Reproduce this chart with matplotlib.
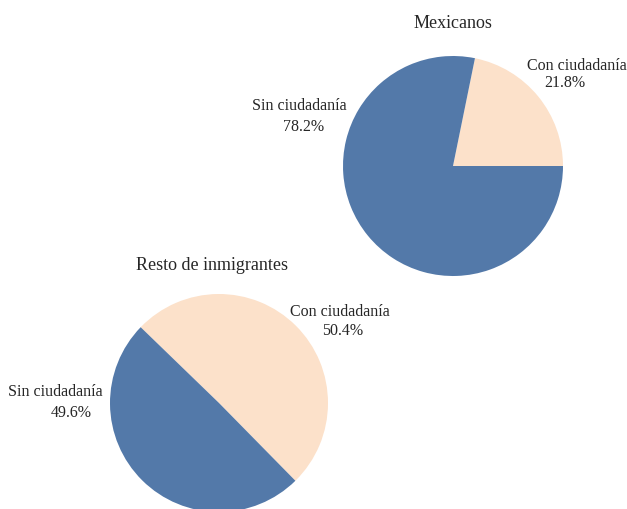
import matplotlib.pyplot as plt

plt.rcParams['font.family'] = ['Liberation Serif', 'DejaVu Serif']
plt.rcParams['text.color'] = '#262626'

labels = ['Con ciudadanía', 'Sin ciudadanía']
mexicanos = [21.8, 78.2]
resto = [50.4, 49.6]
colors = ['#fce1ca', '#5379a9']

fig = plt.figure(figsize=(6.27, 5.10), dpi=100)
W, H = 627, 510


def pie_axes(cx, cy, r):
    # pixel centre/radius -> axes in figure fractions
    ax = fig.add_axes([(cx - r) / W, (H - cy - r) / H, 2 * r / W, 2 * r / H])
    ax.set_aspect('equal')
    ax.axis('off')
    return ax


def label(ax, name_xy, pct_xy, name, pct):
    # label name and percentage are placed as two lines, slightly offset
    ax.text(name_xy[0], name_xy[1], name, ha='center', va='center', fontsize=11.5)
    ax.text(pct_xy[0], pct_xy[1], '%.1f%%' % pct, ha='center', va='center', fontsize=11.5)


ax1 = pie_axes(453, 167, 110)
ax1.pie(mexicanos, colors=colors, startangle=0, radius=1, center=(0, 0), frame=False)
ax1.set_xlim(-1, 1)
ax1.set_ylim(-1, 1)
ax1.text(0, 1.30, 'Mexicanos', ha='center', va='center', fontsize=13)
label(ax1, (1.13, 0.92), (1.02, 0.76), labels[0], mexicanos[0])
label(ax1, (-1.40, 0.55), (-1.36, 0.36), labels[1], mexicanos[1])

ax2 = pie_axes(219, 404, 109)
ax2.pie(resto, colors=colors, startangle=-45.5, radius=1, center=(0, 0), frame=False)
ax2.set_xlim(-1, 1)
ax2.set_ylim(-1, 1)
ax2.text(-0.06, 1.27, 'Resto de inmigrantes', ha='center', va='center', fontsize=13)
label(ax2, (1.11, 0.84), (1.13, 0.67), labels[0], resto[0])
label(ax2, (-1.50, 0.11), (-1.36, -0.08), labels[1], resto[1])

fig.savefig('out.png', dpi=100)
